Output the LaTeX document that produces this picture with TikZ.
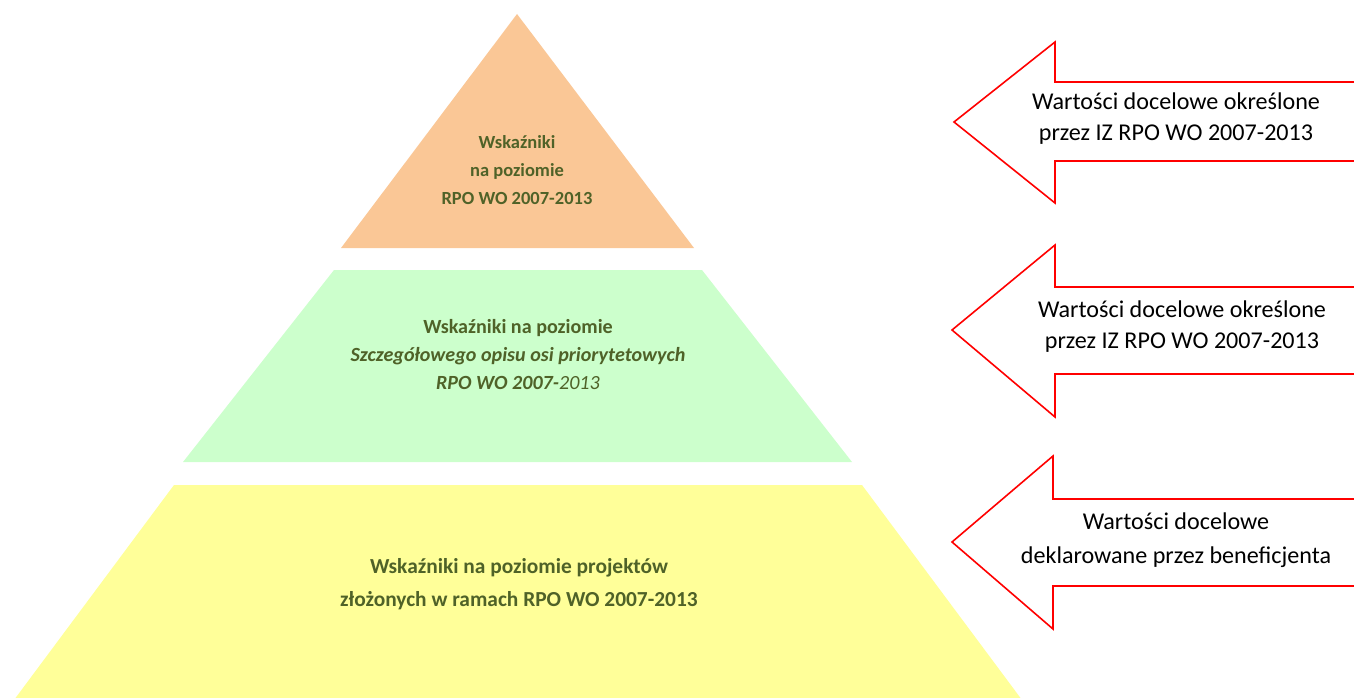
\documentclass[tikz,border=0pt]{standalone}
\usepackage{fontspec}
\setmainfont{Carlito}
\definecolor{olivetxt}{HTML}{4F6228}
\definecolor{peach}{HTML}{FAC796}
\definecolor{mint}{HTML}{CCFFCC}
\definecolor{paleyellow}{HTML}{FFFF99}
\definecolor{arrowred}{HTML}{FF0000}
\tikzset{
  lvltext/.style={text=olivetxt, font=\fontsize{18.5}{28}\selectfont\bfseries, align=center, inner sep=0pt},
  arrtext/.style={text=black, font=\fontsize{24.1}{31}\selectfont, align=center, inner sep=0pt},
  arrowoutline/.style={draw=arrowred, line width=1.6pt, line join=miter, fill=white},
}
\begin{document}
\begin{tikzpicture}[x=1pt,y=-1pt]
\useasboundingbox (0,0) rectangle (1354,698);
\clip (0,0) rectangle (1354,698);
% pyramid levels
\fill[peach] (517,14) -- (694,248) -- (341,248) -- cycle;
\fill[mint] (334,270) -- (702,270) -- (852,462) -- (183,462) -- cycle;
\fill[paleyellow] (174,485) -- (862,485) -- (1022,700) -- (14,700) -- cycle;
% level texts
\node[lvltext] (t1) at (517,170) {Wskaźniki\\na poziomie\\RPO WO 2007-2013};
\node[lvltext, font=\fontsize{20.1}{28}\selectfont\bfseries] (t2) at (518,355) {Wskaźniki na poziomie\\\itshape Szczegółowego opisu osi priorytetowych\\\itshape RPO WO 2007-\mdseries 2013};
\node[lvltext, font=\fontsize{21.4}{33}\selectfont\bfseries] (t3) at (519,584) {Wskaźniki na poziomie projektów\\złożonych w ramach RPO WO 2007-2013};
% arrows
\draw[arrowoutline] (1360,82) -- (1055,82) -- (1055,42) -- (954,122) -- (1055,203) -- (1055,161) -- (1360,161);
\draw[arrowoutline] (1360,287) -- (1055,287) -- (1055,245) -- (952,330) -- (1055,417) -- (1055,374) -- (1360,374);
\draw[arrowoutline] (1360,499) -- (1053,499) -- (1053,456) -- (952,542) -- (1053,629) -- (1053,586) -- (1360,586);
% arrow texts
\node[arrtext] (a1) at (1176,119) {Wartości docelowe określone\\przez IZ RPO WO 2007-2013};
\node[arrtext] (a2) at (1182,327) {Wartości docelowe określone\\przez IZ RPO WO 2007-2013};
\node[arrtext, font=\fontsize{24.1}{34}\selectfont] (a3) at (1176,540) {Wartości docelowe\\deklarowane przez beneficjenta};
\end{tikzpicture}
\end{document}
